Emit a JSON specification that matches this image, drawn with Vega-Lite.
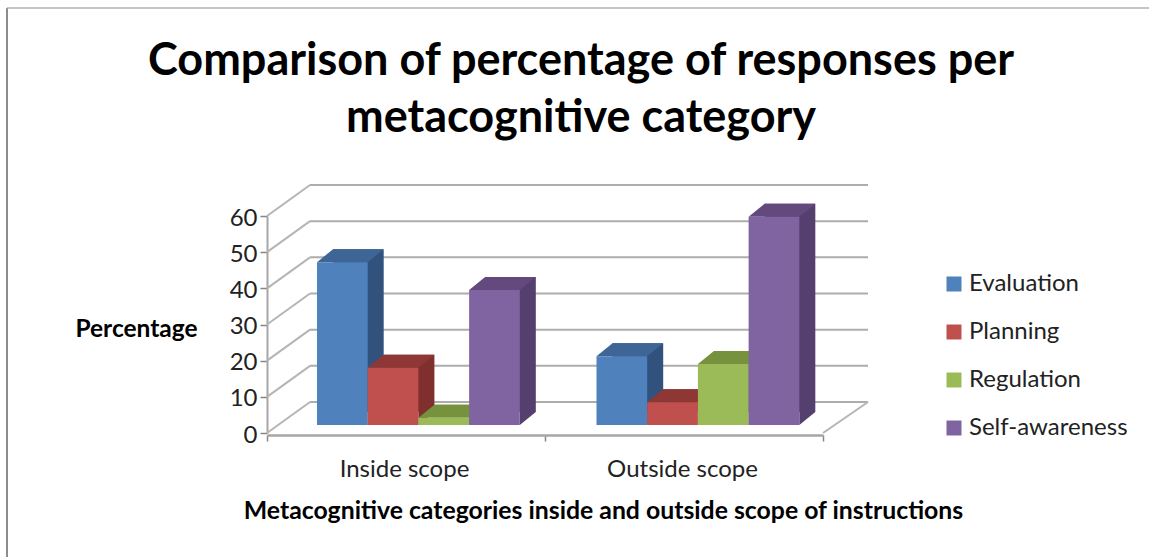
{"$schema":"https://vega.github.io/schema/vega-lite/v6.json","width":556,"height":217,"autosize":"none","padding":{"left":267,"top":216,"right":326,"bottom":124},"background":"white","config":{"view":{"stroke":null},"font":"Lato"},
"title":{"text":["Comparison of percentage of responses per","metacognitive category"],"fontSize":45,"fontWeight":"bold","font":"Lato","color":"#000000","anchor":"middle","dx":36,"offset":-134,"lineHeight":57},
"datasets":{"rows":[{"scope":"Inside scope","category":"Evaluation","value":45},{"scope":"Inside scope","category":"Planning","value":15.8},{"scope":"Inside scope","category":"Regulation","value":2},{"scope":"Inside scope","category":"Self-awareness","value":37.3},{"scope":"Outside scope","category":"Evaluation","value":19},{"scope":"Outside scope","category":"Planning","value":6.3},{"scope":"Outside scope","category":"Regulation","value":16.9},{"scope":"Outside scope","category":"Self-awareness","value":57.6}],"ticks":[{"tick":0},{"tick":10},{"tick":20},{"tick":30},{"tick":40},{"tick":50},{"tick":60}]},
"resolve":{"scale":{"x":"independent","y":"independent","color":"independent"}},
"layer":[
{"data":{"values":[{"a":1}]},"mark":{"type":"rule","stroke":"#8c8c8c","strokeWidth":2},"encoding":{"x":{"value":-260},"y":{"value":-208},"y2":{"value":341}}},
{"data":{"values":[{"a":1}]},"mark":{"type":"rule","stroke":"#b0b0b0","strokeWidth":1.5},"encoding":{"y":{"value":-208},"x":{"value":-260},"x2":{"value":882}}},
{"data":{"name":"rows"},"mark":{"type":"bar","opacity":0},"encoding":{
"x":{"field":"scope","type":"nominal","scale":{"type":"band","paddingInner":0,"paddingOuter":0},"axis":{"title":"Metacognitive categories inside and outside scope of instructions","titleFontSize":24.8,"titleFontWeight":"bold","titleColor":"#000000","titleX":336,"titleY":63,"labelAngle":0,"labelFontSize":24,"labelColor":"#222222","labelPadding":16,"labelOffset":-2,"offset":2,"tickBand":"extent","domainColor":"#a6a6a6","domainWidth":2.5,"tickColor":"#868686","tickSize":6,"tickWidth":1.5}},
"y":{"field":"value","type":"quantitative","stack":null,"scale":{"domain":[0,60]},"axis":{"title":"Percentage","titleAngle":0,"titleFontSize":24.5,"titleFontWeight":"bold","titleColor":"#000000","titleX":-131,"titleY":125,"titleAlign":"center","values":[0,10,20,30,40,50,60],"labelFontSize":24,"labelColor":"#222222","labelPadding":3,"labelOffset":2,"domainColor":"#a6a6a6","domainWidth":2,"tickColor":"#868686","tickSize":7,"tickWidth":1.5,"grid":false}}}},
{"data":{"name":"ticks"},"mark":{"type":"rule","stroke":"#adadad","strokeWidth":2,"xOffset":43,"x2Offset":45,"yOffset":-31,"y2Offset":-31},"encoding":{"x":{"datum":0,"type":"quantitative","scale":{"domain":[0,1],"range":[0,556]},"axis":null},"x2":{"datum":1},"y":{"field":"tick","type":"quantitative","scale":{"domain":[0,60],"range":[217,0]},"axis":null},"y2":{"field":"tick"}}},
{"data":{"name":"ticks"},"mark":{"type":"rule","stroke":"#b5b5b5","strokeWidth":2,"x2Offset":43,"y2Offset":-31},"encoding":{"x":{"datum":0,"type":"quantitative","scale":{"domain":[0,1],"range":[0,556]},"axis":null},"x2":{"datum":0},"y":{"field":"tick","type":"quantitative","scale":{"domain":[0,60],"range":[217,0]},"axis":null},"y2":{"field":"tick"}}},
{"data":{"values":[{"tick":0}]},"mark":{"type":"rule","stroke":"#b5b5b5","strokeWidth":2,"x2Offset":45,"y2Offset":-31},"encoding":{"x":{"datum":1,"type":"quantitative","scale":{"domain":[0,1],"range":[0,556]},"axis":null},"x2":{"datum":1},"y":{"field":"tick","type":"quantitative","scale":{"domain":[0,60],"range":[217,0]},"axis":null},"y2":{"field":"tick"}}},
{"data":{"name":"rows"},"mark":{"type":"bar"},"encoding":{"x":{"field":"scope","type":"nominal","scale":{"type":"band","paddingInner":0,"paddingOuter":0,"range":[16,575]},"axis":null},"xOffset":{"field":"category","type":"nominal","scale":{"paddingInner":0,"paddingOuter":0.756,"align":0.652}},"y":{"field":"value","type":"quantitative","stack":null,"scale":{"domain":[0,60],"range":[196,-21]},"axis":null},"color":{"field":"category","type":"nominal","legend":null,"scale":{"domain":["Evaluation","Planning","Regulation","Self-awareness"],"range":["#30527d","#7f2f2d","#6b8536","#553f6e"]}}}},
{"data":{"name":"rows"},"mark":{"type":"point","filled":true,"size":4,"opacity":1,"strokeWidth":0,"shape":"M25.35,0L25.35,-13L41.35,-13Z"},"encoding":{"x":{"field":"scope","type":"nominal","scale":{"type":"band","paddingInner":0,"paddingOuter":0,"range":[0,559]},"axis":null},"xOffset":{"field":"category","type":"nominal"},"y":{"datum":0,"type":"quantitative","scale":{"domain":[0,60],"range":[209,-8]},"axis":null},"color":{"field":"category","type":"nominal","legend":null,"scale":{"domain":["Evaluation","Planning","Regulation","Self-awareness"],"range":["#30527d","#7f2f2d","#6b8536","#553f6e"]}}}},
{"data":{"name":"rows"},"mark":{"type":"point","filled":true,"size":4,"opacity":1,"strokeWidth":0,"shape":"M-25.35,0L-9.35,-13L41.35,-13L25.35,0Z"},"encoding":{"x":{"field":"scope","type":"nominal","scale":{"type":"band","paddingInner":0,"paddingOuter":0,"range":[0,559]},"axis":null},"xOffset":{"field":"category","type":"nominal"},"y":{"field":"value","type":"quantitative","scale":{"domain":[0,60],"range":[209,-8]},"axis":null},"color":{"field":"category","type":"nominal","legend":null,"scale":{"domain":["Evaluation","Planning","Regulation","Self-awareness"],"range":["#3d6696","#8e3735","#76923c","#64497f"]}}}},
{"data":{"name":"rows"},"mark":{"type":"bar"},"encoding":{"x":{"field":"scope","type":"nominal","scale":{"type":"band","paddingInner":0,"paddingOuter":0,"range":[0,559]},"axis":null},"xOffset":{"field":"category","type":"nominal"},"y":{"field":"value","type":"quantitative","stack":null,"scale":{"domain":[0,60],"range":[209,-8]},"axis":null},"color":{"field":"category","type":"nominal","scale":{"domain":["Evaluation","Planning","Regulation","Self-awareness"],"range":["#4f81bd","#c0504d","#9bbb59","#8064a2"]},"legend":{"title":null,"orient":"none","legendX":675,"legendY":56,"symbolType":"square","symbolSize":225,"symbolStrokeWidth":0,"symbolOpacity":1,"labelFontSize":24,"labelColor":"#222222","rowPadding":24,"labelOffset":3}}}}
]}
